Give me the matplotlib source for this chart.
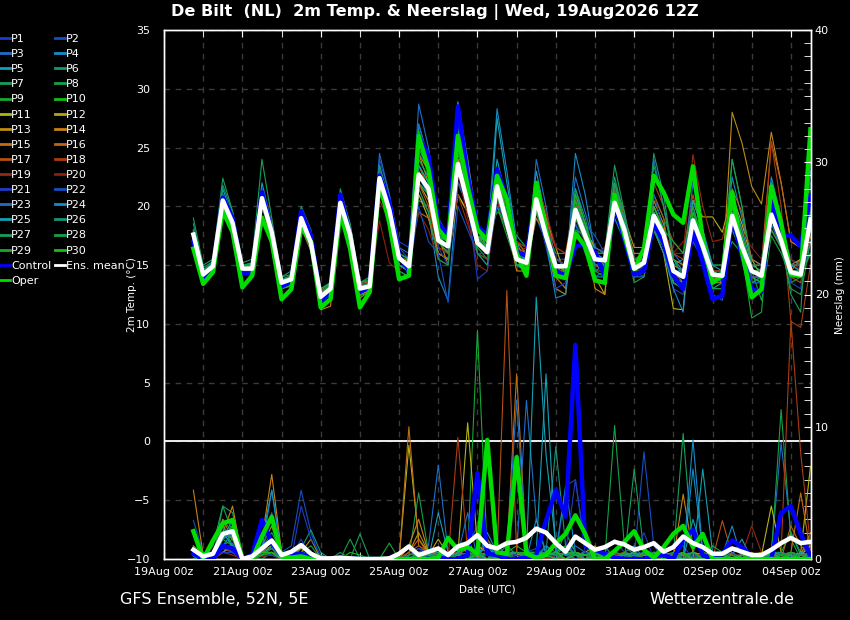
import matplotlib
matplotlib.use('Agg')
import matplotlib.pyplot as plt
import pandas as pd
from matplotlib.lines import Line2D
from matplotlib.ticker import MultipleLocator
import matplotlib.dates as mdates

plt.rcParams['font.family'] = ['DejaVu Sans']

# ---------------- data ----------------
run_start = '2026-08-19 18:00'
n_steps = 64
tick_days = ['2026-08-19', '2026-08-21', '2026-08-23', '2026-08-25', '2026-08-27',
             '2026-08-29', '2026-08-31', '2026-09-02', '2026-09-04']

# 2m temperature (deg C), 6-hourly
T_MEAN = [17.6,14.2,14.9, 20.5,18.6,14.7,14.7, 20.7,17.8,13.5,13.8, 19.0,16.9,12.3,13.0, 20.3,17.6,13.0,13.2,
          22.4,19.7,15.6,14.9, 22.7,21.5,17.1,16.6, 23.6,20.3,16.9,16.1, 21.7,18.6,15.5,15.2, 20.6,17.5,14.9,14.9,
          19.7,17.5,15.5,15.4, 20.3,18.0,14.7,15.2, 19.2,17.6,14.5,14.0, 18.8,16.6,14.2,14.1, 19.2,16.6,14.5,14.1,
          19.3,17.1,14.4,14.2, 18.9]
T_CONTROL = [17.0,13.8,14.6, 20.75,19.0,14.3,14.3, 21.2,17.8,13.2,13.6, 19.6,17.5,11.95,12.7, 21.0,17.5,12.7,13.2,
             22.6,20.3,15.8,14.6, 26.0,24.3,18.6,17.4, 28.5,22.6,18.3,17.5, 23.15,20.6,16.1,15.8, 21.45,18.05,14.5,14.1,
             16.6,16.8,16.1,14.1, 20.3,17.2,14.2,14.5, 18.6,16.9,14.1,12.95, 18.05,15.2,12.1,12.4, 19.2,15.8,12.95,12.7,
             20.6,17.5,17.5,16.6, 20.9]
T_OPER = [16.4,13.4,14.4, 19.6,17.8,13.1,14.1, 19.05,17.0,12.1,12.95, 18.2,17.0,11.4,12.1, 19.5,16.4,11.4,12.7,
          22.0,18.6,13.8,14.1, 26.0,23.15,18.05,17.05, 26.0,21.7,18.05,17.1, 22.6,20.6,16.0,14.1, 22.0,18.05,14.1,13.9,
          17.7,16.6,13.7,13.5, 21.0,17.5,14.65,16.4, 22.6,21.2,19.3,18.6, 23.4,17.2,13.5,14.1, 21.2,16.1,12.25,12.95,
          21.7,18.6,14.2,14.1, 26.55]

T_P01 = [17.5,14.0,15.0, 20.8,18.8,14.5,14.8, 21.0,18.0,13.2,13.6, 19.5,17.0,12.0,12.8, 20.6,17.8,12.8,13.0, 23.0,20.5,16.0,15.0, 24.0,22.5,18.0,16.0, 25.0,21.0,17.0,16.0, 22.0,19.0,15.0,14.5, 21.0,18.0,14.0,14.5, 20.5,18.0,16.0,15.5, 21.0,18.5,14.0,15.0, 19.5,17.5,14.0,13.0, 18.0,16.0,13.5,14.0, 20.0,17.0,14.0,13.5, 20.0,17.5,14.5,14.0, 19.0]
T_P02 = [18.0,14.5,15.2, 21.0,19.0,15.0,15.0, 21.5,18.5,13.8,14.0, 19.2,17.2,12.5,13.2, 21.0,18.0,13.2,13.5, 23.5,20.0,16.5,15.5, 26.0,24.0,18.0,17.0, 24.0,21.0,16.0,15.0, 21.0,18.0,16.0,15.0, 19.0,17.0,15.5,15.5, 18.5,17.0,16.0,16.0, 21.0,19.0,15.0,15.5, 20.0,18.0,15.5,14.5, 18.0,16.0,13.0,13.5, 18.5,16.0,14.5,14.5, 20.0,18.0,15.5,15.0, 19.5]
T_P03 = [17.8,14.3,15.0, 20.2,18.5,14.8,14.9, 20.5,18.0,13.5,13.9, 19.0,17.0,12.5,13.0, 20.0,17.5,13.0,13.3, 22.0,19.5,15.5,15.0, 28.7,25.0,19.0,17.5, 22.0,20.0,17.0,16.0, 22.5,19.5,16.0,14.0, 24.0,20.0,15.0,14.5, 18.5,16.0,14.0,14.5, 20.0,17.0,14.5,15.5, 24.0,20.0,16.0,15.0, 17.0,15.5,14.0,14.0, 21.0,17.0,14.0,13.5, 18.5,16.5,14.0,14.0, 17.0]
T_P04 = [17.0,14.0,14.8, 20.5,18.5,14.5,14.7, 20.8,17.5,13.5,13.7, 18.8,16.5,12.2,13.0, 20.5,17.5,12.8,13.0, 22.8,19.0,15.0,14.5, 21.0,19.5,14.0,12.0, 22.0,21.0,18.0,17.0, 28.3,23.0,17.0,16.0, 20.0,18.0,15.0,14.0, 24.5,21.0,16.0,15.5, 19.0,17.0,14.0,14.5, 20.0,18.0,14.5,13.5, 19.5,17.0,14.5,14.0, 22.5,19.0,15.5,15.0, 20.0,17.0,14.5,14.5, 21.0]
T_P05 = [17.5,14.2,14.9, 21.5,19.0,14.7,14.8, 22.0,18.5,13.5,13.8, 19.5,17.5,12.5,13.0, 20.5,17.5,13.0,13.2, 22.5,19.5,15.0,14.5, 27.0,24.0,19.0,17.0, 24.0,21.0,16.0,15.5, 27.5,22.0,17.0,15.0, 23.0,19.0,15.0,14.5, 20.0,17.0,14.0,14.0, 20.5,18.0,15.0,15.0, 20.0,18.0,15.0,15.5, 19.0,17.5,14.5,14.5, 20.0,17.0,13.5,13.5, 22.0,18.5,15.0,14.5, 18.0]
T_P06 = [18.5,14.8,15.3, 21.8,19.5,15.0,15.2, 21.0,18.5,14.0,14.2, 19.8,17.5,13.0,13.5, 21.5,18.5,13.5,13.8, 22.0,19.0,14.5,14.0, 23.0,21.0,17.5,16.5, 26.5,22.0,17.0,16.5, 20.0,18.0,15.5,15.5, 21.0,17.5,14.5,15.0, 19.0,17.5,16.0,16.0, 22.5,19.0,15.0,15.0, 19.0,17.0,13.5,13.0, 20.0,17.0,14.0,14.5, 18.0,16.0,14.0,14.0, 21.5,18.0,14.5,14.0, 19.5]
T_P07 = [19.0,15.0,15.5, 22.4,19.6,15.2,15.5, 24.0,19.0,14.0,14.5, 20.0,18.0,13.0,13.5, 21.0,18.5,13.5,14.0, 23.0,20.5,16.0,15.5, 20.5,20.0,17.0,16.0, 24.0,21.0,17.5,17.0, 21.0,19.0,17.0,16.5, 21.5,18.5,15.5,15.0, 20.0,18.5,16.0,16.0, 23.5,19.5,15.0,15.0, 18.0,17.0,15.0,14.5, 19.0,17.0,15.0,15.0, 17.0,16.0,15.0,14.5, 19.0,17.0,15.0,14.5, 17.5]
T_P08 = [16.8,13.5,14.5, 20.0,18.0,14.2,14.3, 20.5,17.5,13.0,13.2, 18.5,16.5,11.8,12.5, 19.5,17.0,12.5,12.8, 21.5,19.0,15.0,14.5, 23.5,22.0,18.0,17.0, 23.0,20.5,18.0,17.5, 19.5,19.0,17.5,16.5, 20.5,18.0,16.0,16.0, 18.0,17.5,16.0,16.0, 22.0,19.0,15.5,16.0, 21.0,19.0,14.0,13.0, 19.0,17.5,15.0,15.0, 24.0,20.0,14.5,12.0, 17.5,16.0,14.0,14.0, 16.0]
T_P09 = [17.2,13.8,14.6, 20.0,18.2,14.5,14.5, 20.2,17.5,13.3,13.6, 18.8,16.8,12.3,13.0, 19.8,17.2,12.8,13.0, 22.0,19.5,15.5,15.0, 22.0,21.0,17.0,16.0, 23.0,20.0,16.5,15.5, 20.0,17.5,15.0,14.5, 19.5,17.0,14.0,14.0, 19.0,17.5,15.5,15.0, 20.0,17.5,14.0,14.5, 18.5,17.0,14.0,13.5, 18.5,16.0,14.0,14.0, 19.0,16.0,10.5,11.0, 20.5,17.5,13.5,14.0, 18.0]
T_P10 = [17.0,14.0,14.8, 20.2,18.3,14.6,14.6, 20.5,17.8,13.4,13.7, 19.0,16.8,12.2,12.9, 20.0,17.5,12.9,13.1, 22.0,19.5,15.5,14.8, 25.0,23.0,17.5,16.5, 26.0,22.0,17.0,16.5, 21.5,18.5,15.0,15.0, 20.0,17.0,14.5,14.5, 20.0,17.5,15.0,15.0, 21.0,18.5,14.5,15.0, 19.5,17.5,14.5,14.0, 18.0,16.5,13.5,14.0, 19.5,16.5,14.0,13.5, 20.0,17.5,14.5,14.0, 19.0]
T_P11 = [17.6,14.3,15.0, 20.6,18.7,14.8,14.8, 20.6,17.9,13.6,13.8, 19.2,17.0,12.4,13.1, 20.4,17.7,13.1,13.3, 22.5,19.8,15.8,15.2, 21.0,19.0,16.0,15.5, 21.0,19.5,17.0,17.5, 21.0,18.0,15.0,15.0, 19.5,17.5,15.5,15.0, 19.5,18.0,16.5,16.0, 20.0,18.5,15.0,15.5, 18.0,16.0,11.3,11.2, 20.5,19.1,19.1,17.8, 21.0,18.5,15.5,14.0, 19.0,17.0,14.5,14.0, 17.5]
T_P12 = [17.7,14.4,15.1, 20.8,18.8,14.9,15.0, 20.8,18.0,13.7,13.9, 19.3,17.1,12.6,13.2, 20.6,17.8,13.2,13.4, 22.0,19.5,15.5,15.0, 22.0,20.5,16.0,15.5, 21.0,19.5,17.0,16.0, 20.5,18.0,16.0,15.5, 22.0,19.0,16.5,14.0, 20.0,18.0,14.0,12.5, 21.0,18.0,14.5,14.5, 19.0,17.0,13.5,13.0, 18.0,16.5,14.0,14.0, 20.0,17.5,14.5,14.5, 21.0,18.0,15.0,15.5, 19.0]
T_P13 = [17.4,14.1,14.8, 20.3,18.5,14.5,14.6, 20.4,17.6,13.3,13.6, 18.7,16.7,12.0,12.7, 20.0,17.3,12.5,12.8, 22.0,19.0,15.0,14.5, 24.5,23.0,17.5,15.0, 24.0,22.5,18.0,16.5, 21.0,18.5,14.5,14.5, 20.5,17.5,13.0,12.5, 19.5,17.0,15.0,15.0, 21.0,19.0,16.5,16.5, 19.0,18.0,15.5,15.0, 19.0,17.0,14.0,14.0, 28.0,25.4,21.7,20.2, 26.3,22.0,17.0,16.5, 18.0]
T_P14 = [16.8,13.7,14.4, 19.8,18.0,14.2,14.3, 20.0,17.2,13.0,13.3, 18.2,16.2,11.2,11.5, 19.8,17.0,12.2,12.8, 23.0,20.0,15.5,15.5, 24.5,22.0,17.5,17.0, 22.0,21.0,17.5,17.0, 22.0,20.0,16.0,16.0, 20.5,17.0,14.0,13.0, 21.0,18.0,13.0,12.5, 20.5,18.5,16.0,16.0, 20.5,18.5,14.0,13.5, 17.5,16.0,13.5,13.5, 19.0,16.5,14.0,14.0, 19.0,17.0,14.5,14.5, 18.5]
T_P15 = [17.3,14.0,14.7, 20.5,18.5,14.6,14.6, 20.6,17.7,13.2,13.5, 19.0,16.8,12.2,13.0, 20.2,17.5,12.7,13.0, 21.0,19.5,16.0,15.5, 19.5,19.0,16.0,15.5, 22.0,20.5,18.0,17.5, 21.5,18.5,15.0,15.0, 19.0,17.5,14.5,14.5, 21.0,18.5,15.0,14.5, 19.5,17.5,14.0,14.5, 18.5,17.0,14.0,14.0, 20.5,18.0,14.5,14.5, 19.5,17.0,14.0,14.0, 18.0,16.5,14.5,15.5, 17.5]
T_P16 = [17.9,14.6,15.2, 21.0,19.0,15.0,15.1, 21.2,18.4,13.7,14.0, 19.5,17.5,12.8,13.5, 20.8,18.0,13.4,13.6, 22.5,20.0,15.5,15.0, 23.5,21.5,17.0,16.0, 24.5,22.0,18.0,17.0, 22.0,19.0,16.5,16.0, 21.0,18.5,15.0,14.5, 20.5,17.5,15.0,15.0, 22.0,19.0,15.5,15.5, 20.0,18.0,15.0,14.5, 19.5,17.0,14.0,13.5, 21.5,19.5,15.5,15.0, 25.5,22.0,17.0,16.5, 19.5]
T_P17 = [17.6,14.3,15.0, 20.7,18.6,14.7,14.8, 20.9,18.0,13.6,13.9, 19.2,17.0,12.5,13.2, 20.6,17.8,13.2,13.4, 21.5,19.0,15.5,15.0, 22.0,20.0,16.5,16.0, 26.5,24.0,18.5,17.0, 22.5,20.0,17.0,16.0, 22.0,19.5,15.0,14.0, 20.0,18.0,14.5,14.5, 21.5,19.0,15.5,15.0, 21.0,19.0,17.0,16.0, 21.0,17.5,14.5,14.0, 19.0,17.0,14.5,14.0, 20.5,17.0,14.0,13.5, 19.0]
T_P18 = [17.5,14.2,14.9, 20.4,18.5,14.6,14.7, 20.5,17.7,13.4,13.7, 18.9,16.8,12.3,13.0, 20.2,17.5,12.9,13.1, 21.5,19.5,15.5,15.0, 23.0,21.5,18.0,17.0, 25.0,22.0,17.5,16.0, 22.0,19.0,16.0,16.5, 20.0,18.5,16.5,16.0, 21.0,18.5,15.0,15.0, 20.0,18.0,15.0,15.0, 22.0,20.0,16.0,15.5, 18.5,17.0,14.5,14.5, 20.5,17.5,14.5,14.0, 25.5,20.0,10.2,9.7, 15.0]
T_P19 = [17.8,14.5,15.1, 20.9,18.9,14.9,15.0, 21.0,18.2,13.8,14.1, 19.4,17.3,12.7,13.4, 20.7,17.9,13.3,13.5, 20.5,18.8,15.5,15.5, 21.5,19.5,16.5,16.0, 21.0,18.5,16.0,15.5, 21.5,19.5,17.0,16.5, 22.0,19.5,16.5,16.0, 20.0,17.5,15.5,15.0, 21.0,19.0,15.5,15.5, 20.0,18.0,16.0,16.0, 24.4,20.0,17.0,17.2, 21.0,18.0,15.0,15.0, 21.0,18.0,15.0,15.0, 20.0]
T_P20 = [17.3,14.0,14.7, 20.3,18.3,14.5,14.5, 20.4,17.6,13.3,13.6, 18.9,16.6,12.1,12.9, 20.0,17.3,12.8,13.0, 18.8,15.2,14.5,15.5, 19.5,18.0,15.5,15.0, 23.0,19.0,15.0,14.5, 20.5,18.0,16.0,15.5, 21.0,18.0,15.5,15.0, 19.0,17.0,16.0,16.5, 20.5,18.0,15.5,15.5, 19.5,17.5,16.0,17.0, 18.0,16.5,14.5,14.5, 20.0,18.0,16.5,15.5, 20.0,17.5,15.5,14.5, 17.5]
T_P21 = [17.7,14.4,15.0, 20.7,18.8,14.8,14.9, 20.8,17.9,13.5,13.8, 19.1,17.0,12.4,13.1, 20.4,17.7,13.1,13.3, 24.0,21.0,17.0,16.5, 24.5,23.5,16.5,15.0, 22.0,20.5,13.8,14.5, 21.0,18.5,16.0,15.5, 20.0,16.5,13.0,13.5, 21.0,18.5,15.0,15.0, 20.5,18.0,14.5,14.0, 19.0,16.5,13.0,12.5, 20.0,16.5,13.0,13.0, 19.5,17.0,14.0,14.0, 21.0,18.0,13.5,13.0, 20.0]
T_P22 = [17.4,14.1,14.8, 20.4,18.4,14.6,14.6, 20.6,17.7,13.4,13.7, 18.9,16.8,12.2,12.9, 20.2,17.5,12.9,13.1, 23.0,20.5,16.0,14.0, 20.0,17.0,16.0,11.8, 20.0,18.0,16.0,16.0, 20.0,19.0,16.0,16.0, 21.0,18.0,15.5,15.0, 20.0,18.5,17.5,16.0, 19.5,18.0,15.0,15.5, 21.0,18.0,14.5,14.0, 19.5,16.5,12.5,12.0, 20.5,17.5,13.5,13.5, 19.5,17.5,14.0,14.0, 22.0]
T_P23 = [17.9,14.5,15.2, 21.0,19.0,15.0,15.0, 21.2,18.2,13.6,14.0, 19.5,17.3,12.6,13.4, 20.8,18.0,13.2,13.5, 24.5,21.0,16.5,16.0, 27.0,24.0,17.5,16.5, 25.5,22.0,18.0,17.0, 23.0,20.0,16.0,15.5, 21.5,18.0,14.5,15.0, 22.5,19.5,16.5,16.0, 20.0,17.5,14.0,14.0, 19.5,17.0,14.5,14.5, 22.0,18.0,14.5,13.5, 19.0,16.5,13.5,14.0, 21.5,18.5,14.5,14.0, 21.0]
T_P24 = [17.2,14.0,14.7, 20.2,18.2,14.4,14.5, 20.3,17.5,13.2,13.5, 18.6,16.5,12.0,12.8, 19.8,17.2,12.7,12.9, 22.0,19.0,15.0,14.5, 22.5,21.0,17.0,16.5, 27.0,23.0,17.0,16.0, 21.0,18.0,15.0,14.5, 20.0,17.0,12.2,12.5, 21.5,18.5,14.5,15.0, 20.0,17.5,14.0,14.5, 18.0,16.0,13.0,11.0, 19.0,16.5,14.0,14.0, 19.5,17.5,14.5,14.0, 22.5,19.0,15.0,14.5, 23.0]
T_P25 = [17.6,14.3,15.0, 20.6,18.6,14.7,14.7, 20.7,17.8,13.5,13.8, 19.0,17.0,12.3,13.0, 20.3,17.6,13.0,13.2, 22.5,19.5,15.0,14.5, 23.5,22.0,17.5,17.0, 28.9,24.0,18.0,16.5, 24.0,20.5,16.5,15.0, 20.5,17.5,14.0,14.0, 20.0,18.0,15.5,15.0, 21.0,19.0,15.0,15.0, 20.0,18.0,14.5,14.0, 20.5,18.0,15.0,14.5, 21.0,18.0,15.0,15.0, 22.0,18.5,15.0,15.0, 18.5]
T_P26 = [17.5,14.2,14.9, 20.5,18.5,14.6,14.7, 20.6,17.7,13.4,13.7, 19.0,16.9,12.3,13.0, 20.3,17.6,13.0,13.2, 22.0,19.5,15.5,15.0, 22.0,21.0,17.0,16.5, 23.0,20.5,17.0,16.5, 21.0,18.0,15.5,15.0, 21.0,17.0,14.0,14.5, 20.0,17.5,15.0,15.0, 22.0,18.5,14.5,15.0, 24.5,21.0,15.5,14.5, 19.0,17.0,14.0,14.0, 18.5,16.5,14.5,14.5, 19.5,17.5,14.5,14.5, 16.0]
T_P27 = [18.0,14.6,15.2, 21.0,19.0,15.0,15.1, 21.3,18.3,13.8,14.1, 19.6,17.4,12.8,13.5, 21.0,18.2,13.5,13.7, 23.5,20.5,16.0,15.5, 24.0,22.5,17.5,16.5, 26.5,22.0,17.5,16.0, 21.0,18.5,15.0,15.0, 20.5,18.0,15.0,15.0, 21.5,19.0,15.5,15.0, 22.0,19.5,15.5,15.5, 23.5,20.0,15.5,14.0, 19.0,17.0,13.0,13.0, 24.0,20.0,15.0,14.5, 20.0,17.0,12.5,11.0, 24.0]
T_P28 = [17.1,13.9,14.6, 20.1,18.1,14.3,14.4, 20.1,17.3,13.0,13.3, 18.4,16.3,11.8,12.5, 19.6,17.0,12.4,12.7, 21.5,19.0,14.5,14.0, 21.5,19.5,15.5,15.0, 23.5,21.0,16.0,15.0, 21.0,19.0,15.5,15.0, 19.5,17.5,15.0,14.5, 19.0,17.0,14.5,14.0, 20.0,17.5,13.5,14.0, 18.0,16.5,13.5,13.0, 17.5,16.0,13.0,13.5, 18.5,16.0,13.5,14.0, 18.0,16.5,13.0,12.5, 17.0]
T_P29 = [17.8,14.4,15.1, 20.8,18.9,14.9,15.0, 21.0,18.1,13.7,14.0, 19.3,17.2,12.6,13.3, 20.6,17.9,13.2,13.4, 22.5,20.0,15.5,15.5, 23.0,21.0,17.0,16.0, 24.5,21.5,17.5,16.5, 22.0,19.0,15.5,15.0, 21.5,18.0,15.0,14.5, 20.5,18.0,15.5,15.0, 20.5,18.5,15.0,15.0, 19.5,18.0,17.0,16.0, 20.0,17.0,14.5,14.0, 19.5,17.0,14.5,14.0, 20.5,17.5,14.5,14.0, 19.5]
T_P30 = [17.6,14.3,15.0, 20.6,18.7,14.8,14.9, 20.7,17.8,13.5,13.8, 19.0,17.0,12.4,13.1, 20.3,17.6,13.1,13.3, 22.0,19.5,15.5,15.0, 26.5,23.0,17.5,16.5, 26.0,22.5,17.5,16.5, 22.5,19.5,16.0,15.5, 21.0,18.0,15.0,14.5, 21.0,18.5,15.5,15.0, 20.5,18.5,14.5,15.0, 20.0,18.0,14.5,14.0, 19.5,17.0,14.5,14.0, 20.0,17.5,14.5,14.0, 19.5,17.0,14.5,14.0, 18.5]

# precipitation (mm), 6-hourly
R_MEAN = [0.7,0.2,0.4,1.9,2.1,0.0,0.2,0.8, 1.4,0.3,0.55,1.05,0.4,0.05,0.05,0.1, 0.05,0.0,0.0,0.0,0.05,0.4,0.95,0.3,
          0.55,0.8,0.3,0.95,1.2,1.8,1.0,0.8, 1.2,1.3,1.6,2.3,2.0,1.2,0.55,1.7, 1.2,0.7,0.9,1.3,1.1,0.7,0.9,1.2,
          0.55,0.9,1.7,1.2,0.9,0.4,0.4,0.8, 0.55,0.3,0.3,0.7,1.2,1.6,1.2,1.3]
R_CONTROL = [0.4,0,0,1.0,0.8,0,0.3,2.95, 1.2,0.3,0.3,0.4,0.1,0,0,0.15, 0.1,0,0,0,0,0,0,0,
             0,0.1,0,0,0.3,6.5,0.4,0.3, 0,0,0.1,0.3,2.9,5.2,3.2,16.2, 1.0,0.7,0.4,0.1,0,0,0,0.2,
             0.3,0,1.5,2.2,0.3,0,0.4,1.4, 0.9,0.2,0,0,3.5,4.0,1.9,0.2]
R_OPER = [2.1,0,1.4,2.7,2.95,0,0,1.7, 3.2,0.2,0.1,0.2,0,0,0,0, 0,0,0,0,0,0,0,0,
          0,0.1,1.6,0.7,0.9,0.4,9.0,0.5, 0.4,7.7,0.4,0.1,0.3,1.2,1.9,3.3, 1.9,0,0,0.6,1.3,2.1,0.7,0.1,
          0.9,1.9,2.5,0.9,1.9,0,0,0, 0,0,0,0,0,0,0,0]

R_P01 = [0.5,0,0.2,1.0,0.8,0,0,0.5, 1.0,0,0.2,1.5,0,0,0,0, 0,0,0,0,0,0,0,0, 0.5,0.8,0,0.5,1.0,2.5,0.5,0, 0.2,0,0.5,0.3,1.0,0,5.5,6.0, 1.0,0,0,0.5,0,0.3,0.5,0, 0,0.5,1.0,0,0,0.5,0.3,0, 0,0,0,0.5,0,0.2,0.5,1.0]
R_P02 = [2.9,0.5,0,1.5,2.0,0,0,1.0, 0.8,0.5,1.0,5.2,2.0,0,0,0, 0,0,0,0,0,0,0.3,0.8, 0.5,0.3,0.5,0,1.5,2.0,1.0,0.5, 0,0.3,0.5,0.8,0.3,0.5,1.0,0.5, 0.3,0,0.5,1.5,0.5,0,8.1,1.0, 0,0,0.3,0.5,0,0,0.3,0, 0.5,0,0,0.2,0.5,0.3,0,0]
R_P03 = [0.3,0,0,0.5,1.2,0,0,2.0, 3.0,0.5,0,0.5,0.3,0,0,0, 0,0,0,0,0,0,0,0.5, 1.0,7.1,0.5,0.3,0.8,0.5,0,0.3, 0.5,0.5,12.0,3.0,0.5,0.3,0.5,1.0, 0.5,0.3,0.3,0,0,0.5,0,0.5, 0,0.3,0.5,0.2,0,0.3,0,0, 0,0.3,0,0.5,8.8,2.0,0.5,0]
R_P04 = [0,0.5,0,1.5,3.0,0,0.2,0.5, 1.5,0,0,0.3,0.5,0,0,0, 0,0,0,0,0,0,0,0, 0.3,0.5,0,0,0.3,0,2.0,0.5, 0.5,0,0,3.0,0.3,0.5,5.5,0.5, 0.3,0.5,0,0,0.5,1.0,0,0, 0,0.3,0,6.8,0.5,0,0.3,2.5, 0,0,0,0.3,0.5,0,0,0.5]
R_P05 = [0.3,0,0.5,2.5,1.5,0,0,1.5, 5.2,0.5,0,0.5,0.3,0,0,0, 0,0,0,0,0,0,0.3,0.5, 0,3.5,0.5,0.3,0,0.5,1.0,0.3, 0.5,0.5,0.3,19.8,7.9,1.0,0.5,0.3, 0,0.3,0.5,0,0.3,0,0,0.5, 0.3,0,0,3.0,0.5,0,0,0.3, 1.5,0,0,0.3,0,0,0.3,1.0]
R_P06 = [0.5,0,0.3,2.0,1.0,0,0,0.8, 2.0,0.5,0,0.8,2.2,0.5,0,0, 0,0,0,0,0,0,0,0, 0.3,0.5,0.2,0.5,1.0,0,1.5,0.5, 0.3,0.5,0.3,0.5,0.5,8.5,1.0,0.3, 0.5,0.5,0,0.3,0.3,0,0.5,0, 0.3,0,0.5,0,0.3,0,0,0, 0.3,0.5,0,0.5,0.5,0.3,0,0.3]
R_P07 = [0.2,0,1.0,4.0,3.5,0,0,0, 0.5,0.3,0,1.0,0.5,0,0,0, 0,1.9,0,0,0,0,0,0, 0,0.3,0,0,0.5,0,0,0.3, 1.0,0.3,0.5,0,0.5,0.3,2.0,0.5, 0,0,0.5,0.3,0,6.8,0.5,0, 0.5,0.3,9.5,0.5,0,0,0.3,0, 0,0.5,0,0,0,0.5,0.3,0.3]
R_P08 = [1.0,0.3,0,3.0,2.0,0,0.3,0.5, 0.3,0,0,0.5,1.0,0,0,0, 1.5,0,0,0,0,0,0.2,5.0, 0.5,0.3,0.5,0,0,0,0.5,0, 0,0.5,0.3,0.5,0.3,0,0.5,0.3, 0,0,0,10.1,1.0,0.3,0,0, 0,0.5,0,0.3,0,1.0,0.5,0, 0,0,0,0.3,11.3,1.5,0,0]
R_P09 = [0,0.3,0.5,1.5,1.0,0,0,0.3, 0.5,0,0.3,0.5,0.3,0,0,0, 0,0,0,0,1.2,0,0,0.3, 0.5,0,0.3,0,0.5,17.3,0.5,0.3, 0.5,1.0,0.5,0.3,0,0.5,1.0,0.3, 0.5,0.3,1.0,0,0.5,0.3,0,0.5, 0,0,0.3,0.5,0,0,0.5,0, 0.3,0,0,0,0.5,2.0,0.3,0]
R_P10 = [0.8,0,0.3,2.0,1.5,0,0,0.3, 0.5,0,0,0.3,0.5,0,0,0, 0.5,0.3,0,0,0,0,0,0, 0,0,0,0,0.3,0.5,0.3,0, 0.3,0.5,0.5,0,0.3,0,0.5,0.3, 0,0.5,0.3,0.5,0,0,0.3,0.5, 0.5,0,0,0,0.5,0.3,0,0, 0,0,0.5,0.3,0,0.5,0.3,0.5]
R_P11 = [0,0,0,0.5,1.0,0,0,0.3, 0.5,0,0,0.3,0,0,0,0, 0,0,0,0,0,0,8.6,1.5, 0.5,0.5,0.5,0.3,10.3,1.0,0.5,0, 0.5,0.3,0,0.5,0.3,0,0.5,0, 0,0.3,0.3,0,0,0.5,0,0, 0.3,0,0.5,0,0,0.3,0,0, 0,0,0.3,4.0,0.5,0,0.5,7.0]
R_P12 = [0.3,0,0,1.0,0.5,0,0,0.5, 1.0,0,0.3,0.8,0.5,0,0,0, 0,0,0,0,0,0,0.3,0.5, 0.3,1.5,0.3,0,0.5,0.3,0,0.5, 0.3,0,0.5,0,0.5,0.3,0,0.5, 0.3,0,0.5,0.3,0,0,0.5,0, 0,0.5,0.3,0,0.5,0,0,0, 0.3,0.5,0,0.3,0,0,0.3,1.0]
R_P13 = [2.0,0,0.5,1.5,2.5,0,0,1.0, 2.5,0.3,0,0.5,1.5,0,0,0, 0,0,0,0,0,0,0.5,2.0, 0.5,0.3,0,1.0,0.5,0.3,0,0.5, 0.5,0,0.3,0.5,0,0.3,0.5,0.3, 0.5,1.0,0,0.3,0.5,0,0.3,0, 0,0,0,0.5,0.3,0,0.5,0.3, 0,0.3,0.5,0,0.3,0.5,0,0.5]
R_P14 = [5.2,0.3,0,2.0,4.0,0,0,1.5, 6.4,0.5,0,0.3,0.5,0,0,0, 0,0,0,0,0,0,1.0,3.0, 0.5,0.5,0.3,0,1.5,0,0.5,0.3, 0.5,0.3,0.5,0.5,0.3,1.0,0.5,0, 0.3,0.5,0,0,0.5,0.3,0,0.5, 0,0,4.9,0.5,0.3,0,0,0, 0.3,0,0,0.5,0,0.5,0.3,2.0]
R_P15 = [1.0,0,0.3,3.0,1.5,0,0.3,2.0, 1.5,0.3,0,0.5,0.3,0,0,0, 0,0,0,0,0,0,10.0,1.0, 0.5,0.3,0.3,0.5,0.3,0,0.5,0.3, 0.5,14.0,0.5,0.3,0.5,0,0.5,0.3, 0,0.5,0.3,0,0.3,0,0.5,0, 0,0.3,0,0.3,0,0.5,0,0, 0,0.3,0,0,0.3,0.5,5.0,0.5]
R_P16 = [0.5,0,0,1.0,0.5,0,0,0.3, 0.8,0,0,0.3,0,0,0,0, 0,0,0,0,0,0,0.5,1.5, 0.3,0,0.5,0.3,0,0.3,0,0.5, 0.3,0.5,0.3,0,0.5,0,0,0.5, 0.3,0,0.5,0.3,0,0,0.3,0.5, 0.3,0,0.5,0,0,0.3,0,0.5, 0,0.3,0,0.5,0,2.5,1.0,0.3]
R_P17 = [0.3,0,0.2,1.0,1.0,0,0,0.5, 1.0,0,0,0.3,0,0,0,0, 0,0,0,0,0,0,0.5,1.0, 0.5,0.3,0,0.5,0.3,0,1.5,0.3, 20.3,0.5,0.3,0,0.5,0.3,0,0.5, 0.3,0,0,0.5,0.3,0,0,0.3, 0,0.3,0,0,0.3,0,2.9,0.3, 0,0,0.3,0,0.5,0,0.3,0.5]
R_P18 = [0.5,0,0,0.8,0.5,0,0,0.3, 0.5,0,0,0.2,0,0,0,0, 0,0,0,0,0,0,0,0.5, 0.3,0.5,0,9.2,0.5,0,0.3,0, 0.5,0.3,0,0.3,0,0.5,0.3,0, 0.3,0,0.5,0,0,0.3,0,0, 0.5,0,0.3,0,0,0.3,0,0, 0,0,0.3,0,0.5,18.0,8.0,1.0]
R_P19 = [0.3,0,0,0.5,0.3,0,0,0.2, 0.3,0,0,0,0,0,0,0, 0,0,0,0,0,0,0.3,0.5, 0.3,0,0.3,0,0.3,0,0,0.3, 0.5,0,0.3,0,0.3,0,0.5,0, 0,0.3,0,0.3,0,0,0.3,0, 0,0.3,0,0,0.5,0,0,0.3, 0.3,2.5,0.5,0,0,0.3,0,0.5]
R_P20 = [0.3,0.3,0,0.5,0.5,0,0,0.3, 0.3,0,0,0.2,0,0,0,0, 0,0,0,0,0,0,0,0.3, 0.5,0,0.3,0,0,0.3,0.5,0, 0.3,0,0,0.5,0,0.3,0,0, 0.3,0,0,0.3,0.5,0,0,0, 0.3,0,0,0.3,0,0,0.5,0, 0,0.3,0,0,0.3,0.5,0,0.3]
R_P21 = [0.3,0,0.3,0.5,0.5,0,0,0.5, 0.8,0,0,4.0,1.5,0.3,0,0, 0,0,0,0,0,0,0.3,0.8, 0.3,0.5,0,0.3,0,0.3,0.5,0, 0.5,0.3,0,0.5,0.3,0,0.5,6.0, 0.5,0.3,0,0.5,0.3,0,2.0,0, 0.3,0,0.5,0,0.3,0,0,0, 0,0,0,0.5,0,0.3,0,0.3]
R_P22 = [0.5,0,0,1.0,0.5,0,0,0.5, 0.3,0,0,0.5,0,0,0,0, 0,0,0,0,0,0,0,0.5, 0.5,0.8,0.5,0,0.3,0,0.3,0.5, 0.3,0.5,0.3,0,0.3,0.3,0.5,0.3, 0.5,0,0.3,0,0.5,0.3,0,0.3, 0,0.5,0,0.3,0,0,0.3,0, 0.3,0,0,0,0.3,0.5,0,0.3]
R_P23 = [0,0,0,1.5,2.0,0,0,0.5, 3.5,0,0,0.3,0.5,0,0,0, 0,0,0,0,0,0,0,0.3, 0,0,0,0.3,3.5,0,0,1.0, 0.3,12.0,0.5,0,0.3,0.5,0.3,0, 0.3,0,0.5,0.3,0,0,0,0.5, 0.3,0,0,0.5,0,0.3,0,0.5, 0,0.3,0,0,0.3,0,0.3,0]
R_P24 = [0.3,0.3,0,1.0,2.0,0,0,0.8, 5.2,0.3,0,0.5,0.3,0,0,0, 0,0,0,0,0,0,0,0.3, 0.3,0.3,0.5,0.3,0,0,0.5,0.5, 0.3,0.5,0.3,0,1.0,0.5,0,0.3, 0.3,0.5,0,0,0.3,0.5,0,0.3, 0,0,0,9.0,0.5,0,0.5,0, 0,0,0,0.5,0,0,0.5,0.3]
R_P25 = [0.5,0,0,2.0,1.0,0,0.3,1.0, 1.5,0.5,0,0.5,0.3,0,0,0, 0,0,0,0,0,0,0,0.5, 0.3,0.5,0,0.5,0,0.3,1.0,0, 0.3,0.5,0.3,0.5,14.0,0.5,0.3,0.5, 0.3,0.5,0,0,0.3,0.5,0,0.3, 0.5,0,0.3,0,6.8,0.5,0,0, 0.3,0,0,0.5,0,0.3,0,0.5]
R_P26 = [0.3,0,0.3,2.5,1.0,0,0.3,0.5, 0.8,0,0.3,1.0,0.5,0,0,0, 0,0,0,0,0,0,0,0.3, 0.5,0,0.3,0,0.3,0.5,0,0.3, 0.3,0,0.5,0.3,0.5,0.3,0,0.5, 0,0.3,0.5,0,0,0.3,0.5,0, 0.3,0,0,0.5,0,0.3,0,0, 0.3,0,0,0.3,0.5,0,0.3,0.3]
R_P27 = [0.5,0,0,4.0,2.0,0,0,0.5, 0.5,0,0,1.0,0.3,0.3,0,0.5, 0,0,0,0,0,0,0.3,0.5, 0.3,0,0.5,0.3,0,0.5,0.3,0, 0.3,0.5,0,0.3,0.5,0.3,1.0,0.3, 0,0.5,0,0.5,0.3,0,0,0.5, 0.5,0,0.5,0,0,0.3,0.5,0, 0,0,0,0.5,0.3,0,0,0.5]
R_P28 = [0,0,0.5,1.0,1.5,0,0,0.3, 0.5,0,0,0.3,0.5,0,0,0, 0,0,0,0,0,0,0,0.3, 0,0.3,0,0,0.5,0.3,0,0.5, 0.3,0,0.5,0.5,0.3,0,0.5,0.3, 0,0.5,0.3,0,0,0.5,0.3,0, 0.3,0.5,0,0,0.3,0,0,0.3, 0,0.3,0,0,0,0.5,0.3,0]
R_P29 = [0.3,0,0.3,1.5,2.5,0,0,0.3, 1.0,0,0,0.5,0.3,0,0,0, 0,0,0,0,0,0,0,0.5, 0.3,0,0.3,0,0,0.5,0.3,0.3, 0.3,0.5,0.3,0,0.3,0,0.5,0.5, 0.3,0,0.5,0.3,0,0.3,0,0.3, 0,0.3,0,0.5,0,0,0.3,0, 0.3,0,0,0,0.3,0.5,0,0.5]
R_P30 = [0.5,0,0.3,1.0,1.0,0,0,0.5, 0.5,0,0,0.3,0.3,0,0,0, 0,0,0,0,0,0,0,0.3, 0,0.3,0,0.3,0,0.3,0,0, 0.3,0,0.3,0.5,0.3,0.5,0,0.3, 0.3,0.5,0,0,0.5,0,0.3,0, 0,0.3,0.5,0,0,0.3,0,0, 0.3,0,0,0.5,0,0.3,0,0]

member_names = ['P%d' % k for k in range(1, 31)]
base_colors = ['#1e3cc8', '#1450c0', '#1e6ec8', '#148cc8', '#14a0b4', '#14967a', '#14a05a', '#14a046', '#14aa32', '#14be14',
               '#b4b414', '#bea014', '#be8c14', '#c88214', '#be6e14', '#be6414', '#b45014', '#aa3c14', '#962814', '#8c1e14']
member_colors = base_colors + base_colors[:10]

T_members = [T_P01, T_P02, T_P03, T_P04, T_P05, T_P06, T_P07, T_P08, T_P09, T_P10,
             T_P11, T_P12, T_P13, T_P14, T_P15, T_P16, T_P17, T_P18, T_P19, T_P20,
             T_P21, T_P22, T_P23, T_P24, T_P25, T_P26, T_P27, T_P28, T_P29, T_P30]
R_members = [R_P01, R_P02, R_P03, R_P04, R_P05, R_P06, R_P07, R_P08, R_P09, R_P10,
             R_P11, R_P12, R_P13, R_P14, R_P15, R_P16, R_P17, R_P18, R_P19, R_P20,
             R_P21, R_P22, R_P23, R_P24, R_P25, R_P26, R_P27, R_P28, R_P29, R_P30]

times = pd.date_range(run_start, periods=n_steps, freq='6h')

# ---------------- figure ----------------
W, H = 850, 620
fig = plt.figure(figsize=(W / 100, H / 100), dpi=100, facecolor='black')
ax = fig.add_axes([164 / W, 1 - 559 / H, (810.5 - 164) / W, (559 - 30) / H])
ax.set_facecolor('black')
ax2 = ax.twinx()

ctrl_col = '#0000ff'
oper_col = '#00dd00'
grid_col = '#3a3a3a'

for T, c in zip(T_members, member_colors):
    ax.plot(times, T, color=c, lw=0.8, zorder=2)
ax.plot(times, T_CONTROL, color=ctrl_col, lw=3.2, zorder=3)
ax.plot(times, T_OPER, color=oper_col, lw=3.2, zorder=4)
ax.plot(times, T_MEAN, color='white', lw=3.2, zorder=5)
ax.axhline(0, color='white', lw=1.3, zorder=6)

for R, c in zip(R_members, member_colors):
    ax2.plot(times, R, color=c, lw=0.8, zorder=2)
ax2.plot(times, R_CONTROL, color=ctrl_col, lw=3.2, zorder=3)
ax2.plot(times, R_OPER, color=oper_col, lw=3.2, zorder=4)
ax2.plot(times, R_MEAN, color='white', lw=3.2, zorder=5)

# axes ranges / ticks
ax.set_xlim(pd.Timestamp('2026-08-19 00:00'), pd.Timestamp('2026-09-04 12:00'))
ax.set_ylim(-10, 35)
ax2.set_ylim(0, 40)

major_ticks = pd.to_datetime(tick_days)
minor_ticks = pd.date_range('2026-08-19', '2026-09-04', freq='D')
ax.set_xticks(major_ticks)
ax.set_xticks(minor_ticks, minor=True)
ax.xaxis.set_major_formatter(mdates.DateFormatter('%d%b %Hz'))
ax.set_yticks(range(-10, 36, 5))

ax.grid(which='both', axis='x', color=grid_col, ls=(0, (4, 4)), lw=1)
ax.grid(which='major', axis='y', color=grid_col, ls=(0, (4, 4)), lw=1)
ax.set_axisbelow(True)

ax.tick_params(axis='x', which='both', direction='in', top=True, bottom=True,
               length=5, color='white', labelcolor='white', labelsize=8, pad=6)
ax.tick_params(axis='y', which='both', length=0, labelcolor='white', labelsize=8, pad=10)

ax2.set_yticks([0, 10, 20, 30, 40])
ax2.yaxis.set_minor_locator(MultipleLocator(1))
ax2.tick_params(axis='y', which='both', direction='in', length=5, color='white',
                labelcolor='white', labelsize=8, pad=3)

for a in (ax, ax2):
    for s in a.spines.values():
        s.set_color('white')
        s.set_linewidth(1)

# texts
fig.text(435 / W, 1 - 12 / H, 'De Bilt  (NL)  2m Temp. & Neerslag | Wed, 19Aug2026 12Z',
         ha='center', va='center', color='white', fontsize=11.6, fontweight='bold')
fig.text(132 / W, 1 - 295 / H, '2m Temp. (°C)', rotation=90, ha='center', va='center',
         color='white', fontsize=7.5)
fig.text(840 / W, 1 - 295 / H, 'Neerslag (mm)', rotation=90, ha='center', va='center',
         color='white', fontsize=7.5)
fig.text(487 / W, 1 - 589 / H, 'Date (UTC)', ha='center', va='center', color='white', fontsize=7.5)
fig.text(120 / W, 1 - 599 / H, 'GFS Ensemble, 52N, 5E', ha='left', va='center',
         color='white', fontsize=11.5)
fig.text(794 / W, 1 - 599 / H, 'Wetterzentrale.de', ha='right', va='center',
         color='white', fontsize=11.5)

# legend (row-major order in two columns)
handles = [Line2D([], [], color=c, lw=2) for c in member_colors]
h_ctrl = Line2D([], [], color=ctrl_col, lw=2)
h_oper = Line2D([], [], color=oper_col, lw=2)
h_mean = Line2D([], [], color='white', lw=2)
col1_h = handles[0::2] + [h_ctrl, h_oper]
col1_l = member_names[0::2] + ['Control', 'Oper']
col2_h = handles[1::2] + [h_mean]
col2_l = member_names[1::2] + ['Ens. mean']
leg = fig.legend(col1_h + col2_h, col1_l + col2_l, ncol=2, loc='upper left',
                 bbox_to_anchor=(0.0, 1 - 34 / H), frameon=False, fontsize=8,
                 handlelength=0.9, handletextpad=0.1, columnspacing=0.3,
                 labelspacing=0.46, borderpad=0, borderaxespad=0)
for t in leg.get_texts():
    t.set_color('white')

fig.savefig('out.png', dpi=100, facecolor='black')
